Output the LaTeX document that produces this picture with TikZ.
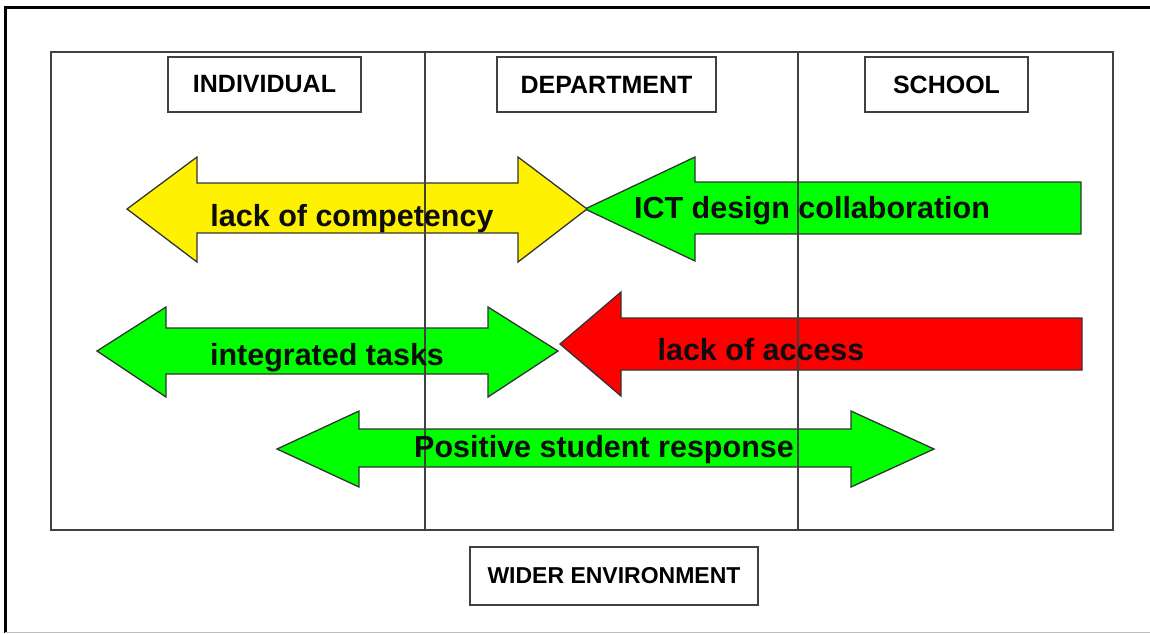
\documentclass[tikz,border=0pt]{standalone}
\usepackage{fontspec}
\setmainfont{Liberation Sans}
\usetikzlibrary{positioning}

\begin{document}
\begin{tikzpicture}[x=1pt,y=-1pt,
      heading/.style={
        draw=black!75,
        line width=2pt,
        inner sep=0pt,
        minimum height=55pt,
        font=\fontsize{25}{29}\selectfont\bfseries
      },
      flow/.style={
        draw=black!80,
        line width=1.3pt,
        line join=miter
      },
      lbl/.style={
        anchor=base,
        inner sep=0pt,
        text=black!95,
        font=\fontsize{30.5}{36}\selectfont\bfseries
      },
      column/.style={
        draw=black!75,
        line width=1.5pt
      }
      ]
      \useasboundingbox (0,0) rectangle (1150,633);
      \draw[black,line width=3pt] (5,633) -- (5,7) -- (1150,7);
      \draw[black!25,line width=1pt] (5,632) -- (1150,632);

      \draw[column] (51,52) rectangle (1113,530);

      \node[heading,minimum width=193pt] at (264.5,84.5) (indiv) {INDIVIDUAL};
      \node[heading,minimum width=219pt] at (606.5,84.5) (dept) {DEPARTMENT};
      \node[heading,minimum width=163pt] at (946.5,84.5) (school) {SCHOOL};
      \node[heading,minimum width=288pt,minimum height=58pt,
        font=\fontsize{23}{27}\selectfont\bfseries] at (614,576) (wider)
        {WIDER ENVIRONMENT};

      \draw[flow,fill=green] (585,209) -- (695,157) -- (695,182) -- (1081,182)
        -- (1081,234) -- (695,234) -- (695,261) -- cycle;
      \draw[flow,fill=yellow] (127,209) -- (197,157) -- (197,183) -- (518,183)
        -- (518,157) -- (587,209) -- (518,262) -- (518,233) -- (197,233)
        -- (197,262) -- cycle;
      \draw[flow,fill=green] (97,351) -- (166,307) -- (166,328) -- (488,328)
        -- (488,307) -- (558,351) -- (488,397) -- (488,374) -- (166,374)
        -- (166,397) -- cycle;
      \draw[flow,fill=red] (560,344) -- (621,292) -- (621,318) -- (1082,318)
        -- (1082,370) -- (621,370) -- (621,396) -- cycle;
      \draw[flow,fill=green] (277,449) -- (359,411) -- (359,429) -- (851,429)
        -- (851,411) -- (934,449) -- (851,487) -- (851,467) -- (359,467)
        -- (359,487) -- cycle;

      \draw[column] (425,52) -- (425,530);
      \draw[column] (798,52) -- (798,530);

      \node[lbl] at (352,226) (competency) {lack of competency};
      \node[lbl] at (812,218) (ictcollab) {ICT design collaboration};
      \node[lbl] at (327,365) (tasks) {integrated tasks};
      \node[lbl] at (761,360) (access) {lack of access};
      \node[lbl] at (604,457) (response) {Positive student response};
    \end{tikzpicture}
\end{document}
